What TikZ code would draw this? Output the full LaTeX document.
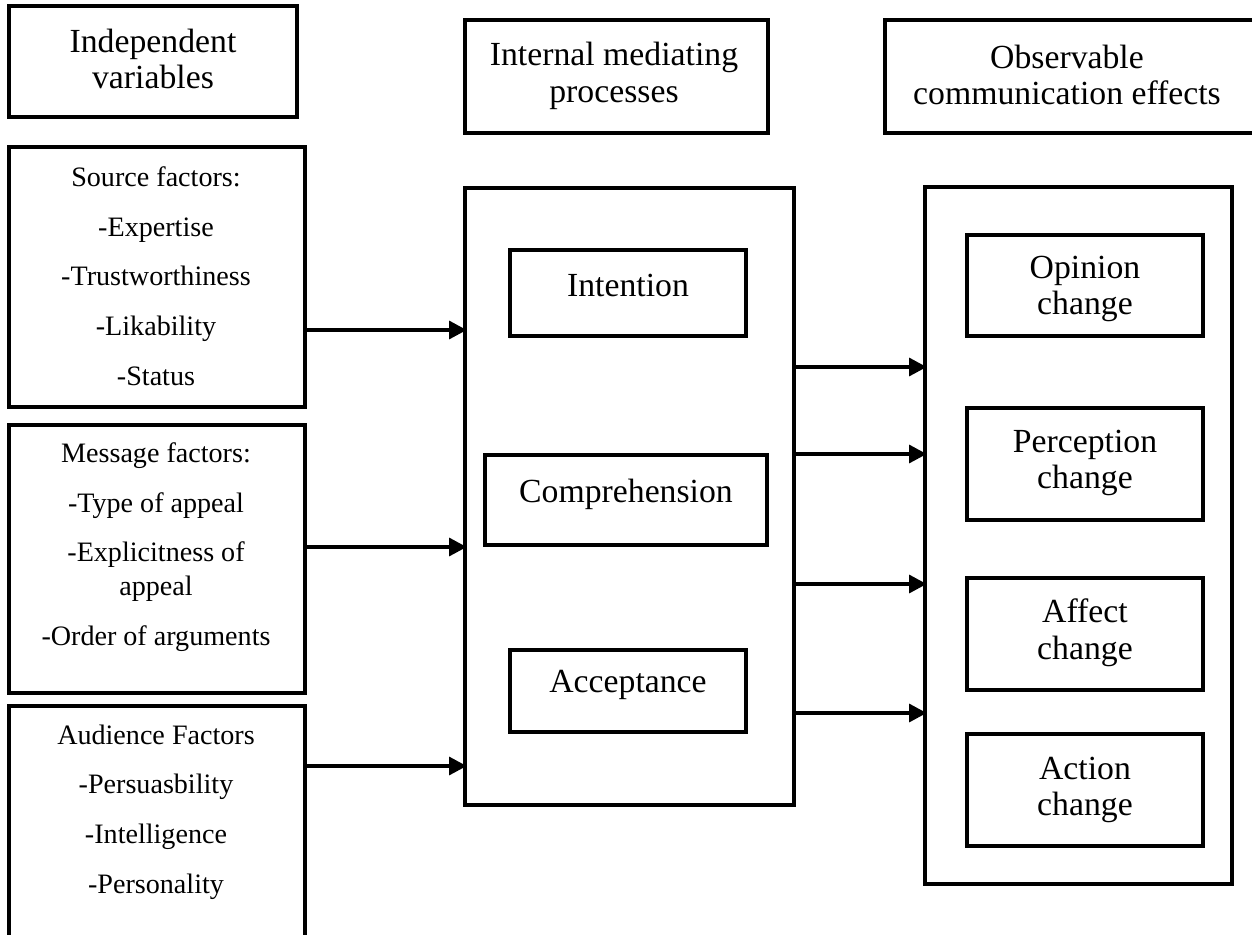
\documentclass[tikz,border=0pt]{standalone}
\usepackage{fontspec}
\setmainfont{Liberation Serif}
\usetikzlibrary{arrows.meta}

\begin{document}
\begin{tikzpicture}[x=0.02cm, y=-0.02cm,
  box/.style={draw=black, line width=2.3pt, inner sep=0pt, outer sep=0pt,
    anchor=north west, fill=none},
  bigtxt/.style={font=\fontsize{19.2}{20.8}\selectfont, align=center, inner sep=0pt},
  smalltxt/.style={font=\fontsize{16}{19.3}\selectfont, align=center, inner sep=0pt},
  arr/.style={line width=2.3pt, -{Triangle[length=10pt, width=10pt]}, shorten >=-1pt}
]
\useasboundingbox (0,0) rectangle (1252,934);
\clip (0,0) rectangle (1252,934);

% column headings
\node[box, minimum width=288*0.02cm, minimum height=111*0.02cm] (hind) at (9,6) {};
\node[bigtxt] (hind-t) at (153,59) {Independent\\variables};
\node[box, minimum width=303*0.02cm, minimum height=113*0.02cm] (hint) at (465,20) {};
\node[bigtxt] (hint-t) at (614,76) {Internal mediating\\processes};
\node[box, minimum width=373*0.02cm, minimum height=113*0.02cm] (hobs) at (885,20) {};
\node[bigtxt] (hobs-t) at (1067,75) {Observable\\communication effects};

% independent variables
\node[box, minimum width=296*0.02cm, minimum height=260*0.02cm] (src) at (9,147) {};
\node[smalltxt] (src-t) at (156,276) {Source factors:\\[9pt]-Expertise\\[9pt]-Trustworthiness\\[9pt]-Likability\\[9pt]-Status};
\node[box, minimum width=296*0.02cm, minimum height=268*0.02cm] (msg) at (9,425) {};
\node[smalltxt] (msg-t) at (156,547) {Message factors:\\[9pt]-Type of appeal\\[9pt]-Explicitness of\\appeal\\[9pt]-Order of arguments};
\node[box, minimum width=296*0.02cm, minimum height=245*0.02cm] (aud) at (9,706) {};
\node[smalltxt] (aud-t) at (156,812) {Audience Factors\\[9pt]-Persuasbility\\[9pt]-Intelligence\\[9pt]-Personality};

% internal mediating processes
\node[box, minimum width=329*0.02cm, minimum height=617*0.02cm] (mid) at (465,188) {};
\node[box, minimum width=236*0.02cm, minimum height=86*0.02cm] (int) at (510,250) {};
\node[bigtxt] (int-t) at (628,285) {Intention};
\node[box, minimum width=282*0.02cm, minimum height=90*0.02cm] (com) at (485,455) {};
\node[bigtxt] (com-t) at (626,494) {Comprehension};
\node[box, minimum width=236*0.02cm, minimum height=82*0.02cm] (acc) at (510,650) {};
\node[bigtxt] (acc-t) at (628,685) {Acceptance};

% observable communication effects
\node[box, minimum width=307*0.02cm, minimum height=697*0.02cm] (eff) at (925,187) {};
\node[box, minimum width=236*0.02cm, minimum height=101*0.02cm] (opi) at (967,235) {};
\node[bigtxt] (opi-t) at (1085,289) {Opinion\\change};
\node[box, minimum width=236*0.02cm, minimum height=112*0.02cm] (per) at (967,408) {};
\node[bigtxt] (per-t) at (1085,463) {Perception\\change};
\node[box, minimum width=236*0.02cm, minimum height=112*0.02cm] (aff) at (967,578) {};
\node[bigtxt] (aff-t) at (1085,633) {Affect\\change};
\node[box, minimum width=236*0.02cm, minimum height=112*0.02cm] (act) at (967,734) {};
\node[bigtxt] (act-t) at (1085,790) {Action\\change};

% connectors
\draw[arr] (src.east |- 0,330) -- (mid.west |- 0,330);
\draw[arr] (msg.east |- 0,547) -- (mid.west |- 0,547);
\draw[arr] (aud.east |- 0,766) -- (mid.west |- 0,766);
\draw[arr] (mid.east |- 0,367) -- (eff.west |- 0,367);
\draw[arr] (mid.east |- 0,454) -- (eff.west |- 0,454);
\draw[arr] (mid.east |- 0,584) -- (eff.west |- 0,584);
\draw[arr] (mid.east |- 0,713) -- (eff.west |- 0,713);
\end{tikzpicture}
\end{document}
